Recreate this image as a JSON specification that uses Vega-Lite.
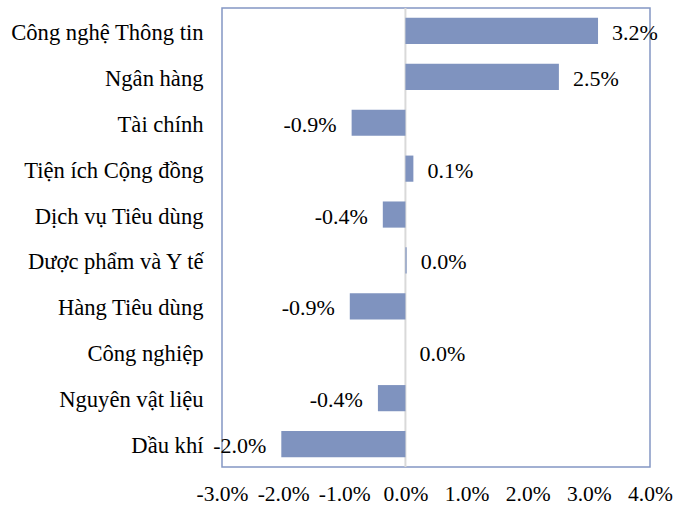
{
  "$schema": "https://vega.github.io/schema/vega-lite/v6.json",
  "autosize": "none",
  "width": 428,
  "height": 459,
  "padding": {"left": 222, "top": 8, "right": 25, "bottom": 39},
  "background": "white",
  "config": {
    "view": {"stroke": "#8497C4", "strokeWidth": 1.5},
    "font": "Liberation Serif"
  },
  "data": {
    "values": [
      {"sector": "Công nghệ Thông tin", "value": 3.15, "label": "3.2%"},
      {"sector": "Ngân hàng", "value": 2.51, "label": "2.5%"},
      {"sector": "Tài chính", "value": -0.88, "label": "-0.9%"},
      {"sector": "Tiện ích Cộng đồng", "value": 0.13, "label": "0.1%"},
      {"sector": "Dịch vụ Tiêu dùng", "value": -0.37, "label": "-0.4%"},
      {"sector": "Dược phẩm và Y tế", "value": 0.02, "label": "0.0%"},
      {"sector": "Hàng Tiêu dùng", "value": -0.91, "label": "-0.9%"},
      {"sector": "Công nghiệp", "value": 0.0, "label": "0.0%"},
      {"sector": "Nguyên vật liệu", "value": -0.45, "label": "-0.4%"},
      {"sector": "Dầu khí", "value": -2.03, "label": "-2.0%"}
    ]
  },
  "encoding": {
    "y": {
      "field": "sector",
      "type": "nominal",
      "sort": null,
      "scale": {"paddingInner": 0.43, "paddingOuter": 0.215},
      "axis": {
        "title": null,
        "domain": false,
        "ticks": false,
        "labelFont": "Liberation Serif",
        "labelFontSize": 22.6,
        "labelColor": "#000000",
        "labelPadding": 19,
        "labelOffset": 2,
        "labelLimit": 300
      }
    }
  },
  "layer": [
    {
      "mark": {"type": "rule", "color": "#D9D9D9", "strokeWidth": 2},
      "data": {"values": [{"z": 0}]},
      "encoding": {
        "x": {"field": "z", "type": "quantitative"},
        "y": null
      }
    },
    {
      "mark": {"type": "bar", "color": "#7F93BF"},
      "encoding": {
        "x": {
          "field": "value",
          "type": "quantitative",
          "scale": {"domain": [-3, 4], "nice": false, "zero": false},
          "axis": {
            "title": null,
            "domain": false,
            "ticks": false,
            "grid": false,
            "values": [-3, -2, -1, 0, 1, 2, 3, 4],
            "labelExpr": "datum.value + '.0%'",
            "labelFont": "Liberation Serif",
            "labelFontSize": 21.5,
            "labelColor": "#000000",
            "labelPadding": 16,
            "labelFlush": false
          }
        }
      }
    },
    {
      "transform": [{"filter": "datum.value >= 0"}],
      "mark": {"type": "text", "align": "left", "dx": 14, "dy": 2, "fontSize": 22, "font": "Liberation Serif", "color": "#000000"},
      "encoding": {
        "x": {"field": "value", "type": "quantitative"},
        "text": {"field": "label"}
      }
    },
    {
      "transform": [{"filter": "datum.value < 0"}],
      "mark": {"type": "text", "align": "right", "dx": -15, "dy": 2, "fontSize": 22, "font": "Liberation Serif", "color": "#000000"},
      "encoding": {
        "x": {"field": "value", "type": "quantitative"},
        "text": {"field": "label"}
      }
    }
  ]
}
